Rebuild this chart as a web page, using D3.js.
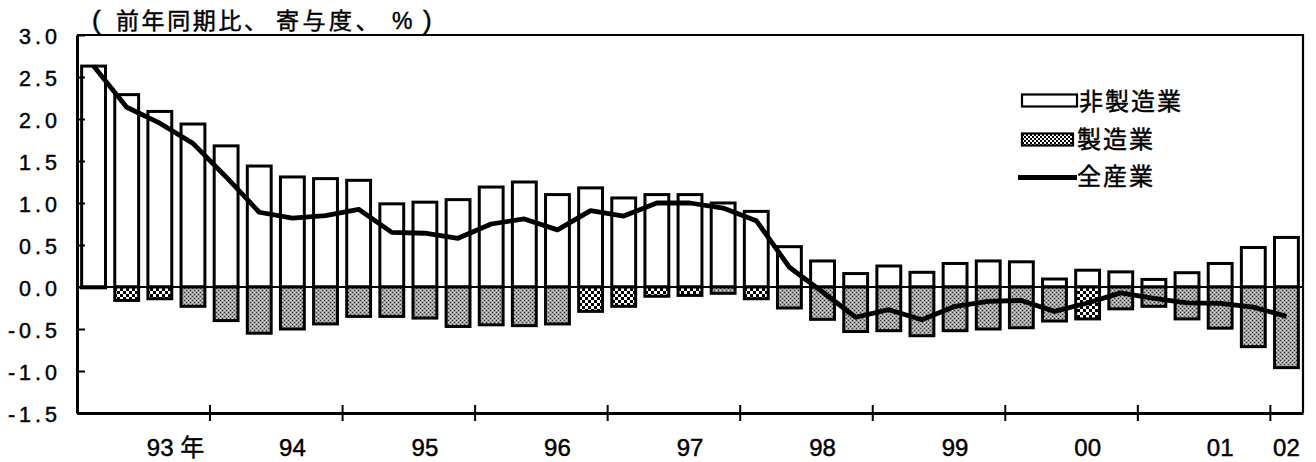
<!DOCTYPE html>
<html><head><meta charset="utf-8">
<script src="https://cdn.jsdelivr.net/npm/d3@7"></script>
<style>body{margin:0;background:#fff}svg{display:block}
text{stroke:#000;stroke-width:0.45px;paint-order:stroke}</style>
</head><body>
<svg id="c" width="1316" height="462"></svg>
<script>
// ---------------- data ----------------
const quarters = [
  "93Q1","93Q2","93Q3","93Q4","94Q1","94Q2","94Q3","94Q4",
  "95Q1","95Q2","95Q3","95Q4","96Q1","96Q2","96Q3","96Q4",
  "97Q1","97Q2","97Q3","97Q4","98Q1","98Q2","98Q3","98Q4",
  "99Q1","99Q2","99Q3","99Q4","00Q1","00Q2","00Q3","00Q4",
  "01Q1","01Q2","01Q3","01Q4","02Q1"];
const nonManufacturing = [
  2.63, 2.29, 2.09, 1.94, 1.68, 1.44, 1.31, 1.29,
  1.27, 0.99, 1.01, 1.04, 1.19, 1.25, 1.10, 1.18,
  1.06, 1.10, 1.10, 1.00, 0.90, 0.48, 0.31, 0.16,
  0.25, 0.175, 0.28, 0.31, 0.30, 0.095, 0.20, 0.18,
  0.09, 0.17, 0.28, 0.47, 0.59];
const manufacturing = [
  -0.01, -0.16, -0.14, -0.23, -0.40, -0.55, -0.50, -0.44,
  -0.35, -0.35, -0.37, -0.47, -0.45, -0.46, -0.44, -0.29,
  -0.23, -0.11, -0.10, -0.075, -0.14, -0.25, -0.385, -0.53,
  -0.52, -0.58, -0.52, -0.50, -0.485, -0.405, -0.38, -0.26,
  -0.23, -0.38, -0.49, -0.71, -0.96];
const allIndustries = [
  2.63, 2.14, 1.95, 1.71, 1.31, 0.89, 0.82, 0.85,
  0.925, 0.65, 0.64, 0.58, 0.75, 0.81, 0.68, 0.91,
  0.845, 1.00, 1.00, 0.94, 0.79, 0.235, -0.06, -0.36,
  -0.27, -0.39, -0.23, -0.17, -0.16, -0.29, -0.19, -0.07,
  -0.135, -0.19, -0.195, -0.24, -0.35];
const yearLabels = ["93","94","95","96","97","98","99","00","01","02"];
const yearLabelQuarters = ["93Q3","94Q3","95Q3","96Q3","97Q3","98Q3","99Q3","00Q3","01Q3","02Q1"];
const yearBoundaryQuarters = ["94Q1","95Q1","96Q1","97Q1","98Q1","99Q1","00Q1","01Q1","02Q1"];
const yTicks = [-1.5, -1.0, -0.5, 0.0, 0.5, 1.0, 1.5, 2.0, 2.5, 3.0];
const seriesNames = ["非製造業", "製造業", "全産業"];
const yearSuffix = "年";
const unitLabel = ["(", "前年同期比、", "寄与度、", "%", ")"];
// bars whose hatch shows as a coarse checker in the original rendering (visual only)
const checkerLookQuarters = ["93Q2","93Q3","96Q4","97Q1","97Q2","97Q3","98Q1","00Q3"];

// ---------------- layout ----------------
const L = 77, R = 1303, T = 35, B = 413;
const svg = d3.select("#c");
const latin = "'Liberation Sans', Arial, sans-serif";
const cjk = "'Liberation Sans', 'Noto Sans CJK JP', sans-serif";

const defs = svg.append("defs");
const pg = defs.append("pattern").attr("id","gray").attr("patternUnits","userSpaceOnUse")
  .attr("width",4).attr("height",4);
pg.append("rect").attr("width",4).attr("height",4).attr("fill","#a0a0a0");
pg.append("rect").attr("x",0).attr("y",0).attr("width",1).attr("height",1).attr("fill","#333");
pg.append("rect").attr("x",2).attr("y",2).attr("width",1).attr("height",1).attr("fill","#333");
pg.append("rect").attr("x",2).attr("y",0).attr("width",1).attr("height",1).attr("fill","#d8d8d8");
pg.append("rect").attr("x",0).attr("y",2).attr("width",1).attr("height",1).attr("fill","#d8d8d8");
const pc = defs.append("pattern").attr("id","checker").attr("patternUnits","userSpaceOnUse")
  .attr("width",6).attr("height",6);
pc.append("rect").attr("width",6).attr("height",6).attr("fill","#fff");
pc.append("rect").attr("x",0).attr("y",0).attr("width",3).attr("height",3).attr("fill","#000");
pc.append("rect").attr("x",3).attr("y",3).attr("width",3).attr("height",3).attr("fill","#000");
const pl = defs.append("pattern").attr("id","checkerSmall").attr("patternUnits","userSpaceOnUse")
  .attr("width",4).attr("height",4);
pl.append("rect").attr("width",4).attr("height",4).attr("fill","#fff");
pl.append("rect").attr("x",0).attr("y",0).attr("width",2).attr("height",2).attr("fill","#000");
pl.append("rect").attr("x",2).attr("y",2).attr("width",2).attr("height",2).attr("fill","#000");

const x = d3.scaleBand().domain(quarters).range([L, R]).paddingInner(0.28).paddingOuter(0.14);
const xi = d3.scaleLinear().domain([0, quarters.length]).range([L, R]);
const y = d3.scaleLinear().domain([-1.5, 3.0]).range([B, T]);

// bars: non-manufacturing
svg.append("g").selectAll("rect").data(quarters).join("rect")
  .attr("x", q => x(q))
  .attr("width", x.bandwidth())
  .attr("y", (q,i) => y(Math.max(0, nonManufacturing[i])))
  .attr("height", (q,i) => Math.abs(y(nonManufacturing[i]) - y(0)))
  .attr("fill", "#fff").attr("stroke", "#000").attr("stroke-width", 3);

// bars: manufacturing
svg.append("g").selectAll("rect").data(quarters).join("rect")
  .attr("x", q => x(q))
  .attr("width", x.bandwidth())
  .attr("y", (q,i) => y(Math.max(0, manufacturing[i])))
  .attr("height", (q,i) => Math.abs(y(manufacturing[i]) - y(0)))
  .attr("fill", q => checkerLookQuarters.includes(q) ? "url(#checker)" : "url(#gray)")
  .attr("stroke", "#000").attr("stroke-width", 3);

// zero line
svg.append("line").attr("x1", L).attr("x2", R).attr("y1", y(0)).attr("y2", y(0))
  .attr("stroke", "#000").attr("stroke-width", 2);

// all-industry line
const line = d3.line().x((d,i) => x(quarters[i]) + x.bandwidth()/2).y(d => y(d));
svg.append("path").datum(allIndustries).attr("d", line)
  .attr("fill", "none").attr("stroke", "#000").attr("stroke-width", 4.8)
  .attr("stroke-linejoin", "round").attr("stroke-linecap", "butt");

// frame top / right
svg.append("path").attr("d", `M${L},${T}H${R}V${B}`).attr("fill","none")
  .attr("stroke","#000").attr("stroke-width",2.2);

// y axis
const yAxis = d3.axisLeft(y).tickValues(yTicks).tickSizeInner(-8).tickSizeOuter(0)
  .tickPadding(16).tickFormat(d => d.toFixed(1));
const gy = svg.append("g").attr("transform", `translate(${L},0)`).call(yAxis);
gy.select(".domain").attr("stroke-width", 3).attr("stroke", "#000");
gy.selectAll(".tick line").attr("stroke-width", 2).attr("stroke", "#000");
gy.selectAll(".tick text").attr("font-family", latin).attr("font-size", 21.5)
  .attr("letter-spacing", "4px").attr("fill", "#000").attr("dy", "0.4em");

// x axis: year boundary ticks
const xAxis = d3.axisBottom(xi)
  .tickValues(yearBoundaryQuarters.map(q => quarters.indexOf(q)))
  .tickSizeInner(8).tickSizeOuter(0).tickFormat("");
const gx = svg.append("g").attr("transform", `translate(0,${B})`).call(xAxis);
gx.select(".domain").attr("stroke-width", 3).attr("stroke", "#000");
gx.selectAll(".tick line").attr("y1", -8).attr("y2", 8).attr("stroke-width", 2).attr("stroke", "#000");

// x axis: year labels
const xLab = d3.axisBottom(x).tickValues(yearLabelQuarters).tickSize(0)
  .tickFormat((q,i) => yearLabels[i]);
const gl = svg.append("g").attr("transform", `translate(0,${B})`).call(xLab);
gl.select(".domain").remove();
gl.selectAll(".tick text").attr("font-family", latin).attr("font-size", 24)
  .attr("fill", "#000").attr("y", 43).attr("dy", 0);
gl.select(".tick text").attr("text-anchor", "start").attr("x", -13)
  .text(yearLabels[0] + " " + yearSuffix).attr("font-family", cjk);

// unit label
const ut = svg.append("text").attr("y", 29).attr("font-family", cjk).attr("font-size", 23).attr("fill", "#000");
const ux = [92, 116, 276, 392, 423];
const uls = [0, 2.6, 3.5, 0, 0];
unitLabel.forEach((s, i) => {
  ut.append("tspan").attr("x", ux[i]).attr("letter-spacing", uls[i] + "px")
    .attr("font-size", (i === 0 || i === 4) ? 26 : 23).text(s);
});

// legend
const lg = svg.append("g");
lg.append("rect").attr("x", 1022).attr("y", 94.5).attr("width", 55).attr("height", 12)
  .attr("fill", "#fff").attr("stroke", "#000").attr("stroke-width", 2.2);
lg.append("rect").attr("x", 1022).attr("y", 133.5).attr("width", 51).attr("height", 12)
  .attr("fill", "url(#checkerSmall)").attr("stroke", "#000").attr("stroke-width", 2.2);
lg.append("line").attr("x1", 1018).attr("x2", 1077).attr("y1", 177.5).attr("y2", 177.5)
  .attr("stroke", "#000").attr("stroke-width", 4.8);
const ly = [110, 148, 185];
const lx = [1079, 1077, 1077];
seriesNames.forEach((s, i) => {
  lg.append("text").attr("x", lx[i]).attr("y", ly[i]).attr("font-family", cjk)
    .attr("font-size", 24).attr("letter-spacing", "2px").attr("fill", "#000").text(s);
});
</script>
</body></html>
